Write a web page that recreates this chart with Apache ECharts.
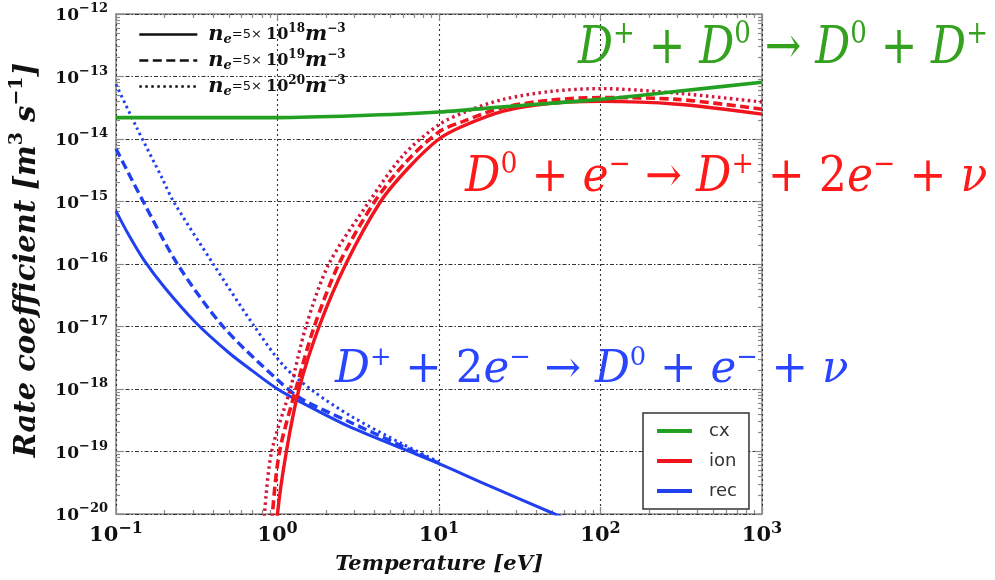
<!DOCTYPE html>
<html>
<head>
<meta charset="utf-8">
<script src="https://cdn.jsdelivr.net/npm/echarts@6/dist/echarts.min.js"></script>
<style>
  html, body { margin: 0; padding: 0; background: #fff; }
  #chart { width: 995px; height: 580px; }
</style>
</head>
<body>
<div id="chart"></div>
<script>
// Rate coefficients k [m^3 s^-1] against temperature T [eV], as [T, k] pairs.
// Charge exchange (density independent)
const cxRate = [[0.1, 2.2e-14], [0.3, 2.2e-14], [1, 2.2e-14], [3, 2.35e-14], [10, 2.7e-14],
  [30, 3.4e-14], [100, 4.3e-14], [300, 5.8e-14], [1000, 8.1e-14]];
// Ionisation at n_e = 5e18, 5e19, 5e20 m^-3
const ionRate18 = [[0.95, 1e-21], [1.0, 1e-20], [1.135, 1e-19], [1.36, 1e-18], [1.81, 1e-17],
  [2.65, 1e-16], [4.35, 1e-15], [6.5, 3.5e-15], [10, 1e-14], [14, 1.6e-14], [25, 2.8e-14],
  [48, 3.7e-14], [100, 4.0e-14], [300, 3.6e-14], [1000, 2.5e-14]];
const ionRate19 = [[0.88, 1e-21], [0.93, 1e-20], [1.03, 1e-19], [1.3, 1e-18], [1.69, 1e-17],
  [2.4, 1e-16], [4.0, 1e-15], [6.2, 4.2e-15], [10, 1.3e-14], [14, 1.9e-14], [25, 3.2e-14],
  [50, 4.2e-14], [100, 4.6e-14], [300, 4.3e-14], [1000, 3.0e-14]];
const ionRate20 = [[0.78, 1e-21], [0.83, 1e-20], [0.92, 1e-19], [1.2, 1e-18], [1.5, 1e-17],
  [2.08, 1e-16], [3.7, 1e-15], [6, 5.5e-15], [10, 1.7e-14], [15, 2.8e-14], [25, 4.3e-14],
  [50, 5.8e-14], [100, 6.4e-14], [300, 5.4e-14], [1000, 3.9e-14]];
// Recombination at n_e = 5e18, 5e19, 5e20 m^-3
const recRate18 = [[0.1, 7e-16], [0.12, 2.9e-16], [0.149, 1.15e-16], [0.2, 4.2e-17], [0.31, 1.17e-17],
  [0.5, 3.8e-18], [0.7, 1.95e-18], [1, 1e-18], [1.36, 6.4e-19], [2.7, 2.6e-19], [6, 1.1e-19],
  [10, 6.4e-20], [20, 2.9e-20], [52, 1e-20], [60, 8.5e-21]];
const recRate19 = [[0.1, 7e-15], [0.146, 1.05e-15], [0.24, 1e-16], [0.46, 1e-17],
  [1, 1.4e-18], [1.4, 7e-19], [2.7, 3.1e-19], [6, 1.2e-19], [10, 6.5e-20]];
const recRate20 = [[0.1, 7.5e-14], [0.133, 1.6e-14], [0.194, 2.3e-15], [0.227, 1e-15], [0.4, 1e-16],
  [0.72, 1e-17], [1.1, 2.3e-18], [1.69, 9e-19], [2.84, 3.7e-19], [6, 1.3e-19], [10, 6.8e-20]];

// Decade exponents used for the tick labels
const xTickExponents = [-1, 0, 1, 2, 3];
const yTickExponents = [-20, -19, -18, -17, -16, -15, -14, -13, -12];
// Electron densities n_e = 5 x 10^e m^-3
const densityExponents = [18, 19, 20];
const processNames = ['cx', 'ion', 'rec'];

const GREEN = '#22a022', RED = '#f0141e', RED_DARK = '#d0183c', BLUE = '#2040f0';
const FRAME = '#8a8a8a';

const decades = e => Math.pow(10, e);
const xMajor = xTickExponents.map(decades);
const yMajor = yTickExponents.map(decades);
function minorTicks(exps) {
  const out = [];
  for (let i = 0; i < exps.length - 1; i++) {
    for (let m = 2; m <= 9; m++) out.push(m * Math.pow(10, exps[i]));
  }
  return out;
}
const xMinor = minorTicks(xTickExponents);
const yMinor = minorTicks(yTickExponents);

const supText = e => (e < 0 ? '\u2212' : '') + Math.abs(e);
const powLabel = v => '{b|10}{s|' + supText(Math.round(Math.log10(v))) + '}';

const serif = 'DejaVu Serif';

function logAxis(min, max, position, ticks, tickLen, extra) {
  return Object.assign({
    type: 'log', logBase: 10, min: min, max: max, position: position,
    axisLine: { show: false, onZero: false },
    axisTick: { show: true, inside: true, length: tickLen, customValues: ticks,
      lineStyle: { color: FRAME, width: 1.2 } },
    axisLabel: { show: false },
    splitLine: { show: false }
  }, extra || {});
}

const xMain = logAxis(0.1, 1000, 'bottom', xMajor, 7, {
  axisLabel: {
    show: true, customValues: xMajor, margin: 7, formatter: powLabel,
    rich: {
      b: { fontFamily: serif, fontWeight: 'bold', fontSize: 21, lineHeight: 30, color: '#111' },
      s: { fontFamily: serif, fontWeight: 'bold', fontSize: 16, lineHeight: 16, verticalAlign: 'top', color: '#111' }
    }
  },
  splitLine: { show: true, lineStyle: { color: '#333', width: 1.1, type: [2, 3] } },
  name: 'Temperature [eV]', nameLocation: 'middle', nameGap: 40,
  nameTextStyle: { fontFamily: serif, fontWeight: 'bold', fontStyle: 'italic', fontSize: 21, color: '#111' }
});

const yMain = logAxis(1e-20, 1e-12, 'left', yMajor, 7, {
  axisLabel: {
    show: true, customValues: yMajor, margin: 8, formatter: powLabel, padding: [4, 0, 0, 0],
    rich: {
      b: { fontFamily: serif, fontWeight: 'bold', fontSize: 17, lineHeight: 27, color: '#111' },
      s: { fontFamily: serif, fontWeight: 'bold', fontSize: 13, lineHeight: 13, verticalAlign: 'top', color: '#111' }
    }
  },
  splitLine: { show: true, lineStyle: { color: '#333', width: 1.1, type: [4, 2, 1.5, 2] } },
  name: '{t|Rate coefficient [m}{s|3}{t| s}{s|\u22121}{t|]}', nameLocation: 'middle', nameGap: 70, nameRotate: 90,
  nameTextStyle: {
    padding: [0, 0, 0, 8],
    rich: {
      t: { fontFamily: serif, fontWeight: 'bold', fontStyle: 'italic', fontSize: 29, lineHeight: 38, color: '#111' },
      s: { fontFamily: serif, fontWeight: 'bold', fontSize: 19, lineHeight: 19, verticalAlign: 'top', color: '#111' }
    }
  }
});

function lineSeries(name, data, color, type, width) {
  return {
    type: 'line', name: name, data: data, color: color,
    showSymbol: false, symbol: 'none', smooth: 0.3, clip: true,
    lineStyle: { color: color, width: width, type: type, cap: 'butt' },
    emphasis: { disabled: true }, z: 3
  };
}
const DASH = [9, 4.5], DOT = [2.5, 3.5];

const densityName = e => 'ne' + e;
const densityStyles = { 18: 'solid', 19: DASH, 20: DOT };

// Reaction labels: token lists of [style, text]
const reactionCX = [['it', 'D'], ['sup', '+'], ['op', ' + '], ['it', 'D'], ['sup', '0'], ['op', ' \u2192 '],
  ['it', 'D'], ['sup', '0'], ['op', ' + '], ['it', 'D'], ['sup', '+']];
const reactionIon = [['it', 'D'], ['sup', '0'], ['op', ' + '], ['it', 'e'], ['sup', '\u2212'], ['op', ' \u2192 '],
  ['it', 'D'], ['sup', '+'], ['op', ' + 2'], ['it', 'e'], ['sup', '\u2212'], ['op', ' + '], ['it', '\u03bd']];
const reactionRec = [['it', 'D'], ['sup', '+'], ['op', ' + 2'], ['it', 'e'], ['sup', '\u2212'], ['op', ' \u2192 '],
  ['it', 'D'], ['sup', '0'], ['op', ' + '], ['it', 'e'], ['sup', '\u2212'], ['op', ' + '], ['it', '\u03bd']];

function reactionText(tokens, color, size, x, y, sx) {
  const sup = Math.round(size * 0.6);
  return {
    type: 'text', x: x, y: y, scaleX: sx, silent: true, z: 10,
    style: {
      text: tokens.map(t => '{' + t[0] + '|' + t[1] + '}').join(''),
      fill: color, align: 'left', verticalAlign: 'middle',
      rich: {
        it: { fontFamily: serif, fontStyle: 'italic', fontSize: size, lineHeight: size * 1.15, fill: color },
        op: { fontFamily: serif, fontSize: size, lineHeight: size * 1.15, fill: color },
        sup: { fontFamily: serif, fontSize: sup, lineHeight: sup, verticalAlign: 'top', fill: color }
      }
    }
  };
}

const option = {
  animation: false,
  backgroundColor: '#fff',
  grid: { left: 110, right: 233, top: 14, bottom: 61, show: true, borderColor: FRAME, borderWidth: 1.6,
    backgroundColor: 'transparent' },
  xAxis: [
    xMain,
    logAxis(0.1, 1000, 'top', xMajor, 7),
    logAxis(0.1, 1000, 'bottom', xMinor, 4),
    logAxis(0.1, 1000, 'top', xMinor, 4)
  ],
  yAxis: [
    yMain,
    logAxis(1e-20, 1e-12, 'right', yMajor, 7),
    logAxis(1e-20, 1e-12, 'left', yMinor, 4),
    logAxis(1e-20, 1e-12, 'right', yMinor, 4)
  ],
  legend: [
    {
      data: densityExponents.map(densityName), orient: 'vertical', left: 133, top: 18,
      itemWidth: 58, itemHeight: 12, itemGap: 3, selectedMode: false,
      lineStyle: { width: 2.6 }, itemStyle: { opacity: 0 },
      formatter: name => '{n|n}{sub|e}{eq|=5\u00d7 }{t|10}{sup|' + name.slice(2) + '}{n|m}{sup|\u22123}',
      textStyle: {
        color: '#111', padding: [0, 0, 0, 6],
        rich: {
          n: { fontFamily: serif, fontStyle: 'italic', fontWeight: 'bold', fontSize: 21, lineHeight: 23, color: '#111' },
          sub: { fontFamily: serif, fontStyle: 'italic', fontWeight: 'bold', fontSize: 13, lineHeight: 13, verticalAlign: 'bottom', color: '#111' },
          eq: { fontFamily: 'DejaVu Sans', fontSize: 13, lineHeight: 23, color: '#111' },
          t: { fontFamily: serif, fontWeight: 'bold', fontSize: 16, lineHeight: 23, color: '#111' },
          sup: { fontFamily: serif, fontWeight: 'bold', fontSize: 12, lineHeight: 12, verticalAlign: 'top', color: '#111' }
        }
      }
    },
    {
      data: processNames, orient: 'vertical', left: 643, top: 413,
      itemWidth: 35, itemHeight: 10, itemGap: 10, selectedMode: false,
      padding: [8, 12, 8, 12], borderColor: '#333', borderWidth: 1.5, backgroundColor: '#fff',
      lineStyle: { width: 4 }, itemStyle: { opacity: 0 },
      textStyle: { fontFamily: 'DejaVu Sans', fontSize: 18, lineHeight: 20, color: '#333', padding: [0, 0, 0, 12] }
    }
  ],
  series: [
    lineSeries('rec', recRate18, BLUE, 'solid', 3),
    lineSeries('rec 5e19', recRate19, BLUE, DASH, 3.4),
    lineSeries('rec 5e20', recRate20, BLUE, DOT, 3),
    lineSeries('ion', ionRate18, RED, 'solid', 3.4),
    lineSeries('ion 5e19', ionRate19, RED, DASH, 3.6),
    lineSeries('ion 5e20', ionRate20, RED_DARK, DOT, 3.4),
    lineSeries('cx', cxRate, GREEN, 'solid', 3.6)
  ].concat(densityExponents.map(e => lineSeries(densityName(e), [], '#111', densityStyles[e], 2.6))),
  graphic: [
    reactionText(reactionCX, '#34a11f', 52, 578, 49, 0.84),
    reactionText(reactionIon, '#ff1a1a', 48, 465, 179, 0.92),
    reactionText(reactionRec, '#2a45ff', 44, 335, 371, 0.99)
  ]
};

const chart = echarts.init(document.getElementById('chart'), null, { renderer: 'canvas' });
chart.setOption(option);
</script>
</body>
</html>
